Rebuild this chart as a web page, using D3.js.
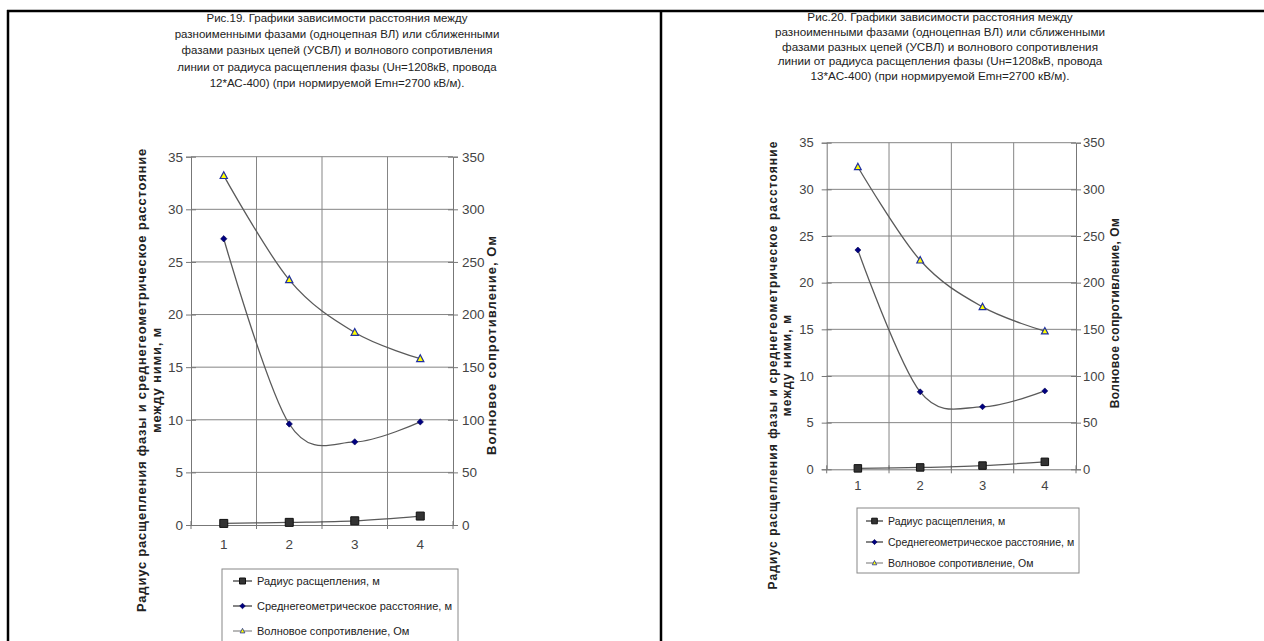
<!DOCTYPE html>
<html lang="ru">
<head>
    <meta charset="UTF-8">
    <title>Рис.19 и Рис.20</title>
    <script src="https://d3js.org/d3.v7.min.js"></script>
    <style>
        body { margin: 0; background: #fff; }
        svg { display: block; font-family: "Liberation Sans", Arial, sans-serif; }
        .tick text { fill: #444; }
        .series { fill: none; stroke: #5a5a5a; stroke-width: 1.3px; }
    </style>
</head>
<body>
    <svg width="1264" height="641"></svg>

    <script>
        // Values
        const categories = [1, 2, 3, 4];

        const radius19 = [0.15, 0.25, 0.4, 0.85];
        const distance19 = [27.2, 9.6, 7.9, 9.8];
        const impedance19 = [332, 233, 183, 158];

        const radius20 = [0.1, 0.2, 0.4, 0.8];
        const distance20 = [23.5, 8.3, 6.7, 8.4];
        const impedance20 = [324, 224, 174, 148];

        const leftTicks = [0, 5, 10, 15, 20, 25, 30, 35];
        const rightTicks = [0, 50, 100, 150, 200, 250, 300, 350];

        const seriesNames = ["Радиус расщепления, м", "Среднегеометрическое расстояние, м", "Волновое сопротивление, Ом"];
        const leftTitle = ["Радиус расщепления фазы и среднегеометрическое расстояние", "между ними, м"];
        const rightTitle = "Волновое сопротивление, Ом";

        const title19 = [
            "Рис.19. Графики зависимости расстояния между",
            "разноименными фазами (одноцепная ВЛ) или сближенными",
            "фазами  разных цепей (УСВЛ) и волнового сопротивления",
            "линии от радиуса расщепления фазы (Uн=1208кВ, провода",
            "12*АС-400) (при нормируемой Emн=2700 кВ/м)."
        ];
        const title20 = [
            "Рис.20. Графики зависимости расстояния между",
            "разноименными фазами (одноцепная ВЛ) или сближенными",
            "фазами разных цепей (УСВЛ) и волнового сопротивления",
            "линии от радиуса расщепления фазы (Uн=1208кВ, провода",
            "13*АС-400) (при нормируемой Emн=2700 кВ/м)."
        ];

        const svg = d3.select("svg");

        // table cell borders
        const border = svg.append("g").attr("stroke", "#000").attr("stroke-width", 2.5);
        border.append("line").attr("x1", 7).attr("x2", 1264).attr("y1", 11).attr("y2", 11);
        border.append("line").attr("x1", 8).attr("x2", 8).attr("y1", 10).attr("y2", 641);
        border.append("line").attr("x1", 661).attr("x2", 661).attr("y1", 10).attr("y2", 641);

        // marker shapes
        const squarePath = s => d3.symbol().type(d3.symbolSquare).size(s * s)();
        const diamondPath = s => `M0,${-s / 2}L${s / 2},0L0,${s / 2}L${-s / 2},0Z`;
        const trianglePath = s => `M0,${-s * 0.55}L${s / 2},${s * 0.4}L${-s / 2},${s * 0.4}Z`;

        function drawChart(c) {
            const g = svg.append("g");

            // title
            g.append("text")
                .attr("text-anchor", "middle")
                .attr("font-size", c.titleSize)
                .attr("fill", "#222")
                .selectAll("tspan")
                .data(c.title)
                .join("tspan")
                .attr("x", c.titleX)
                .attr("y", (d, i) => c.titleY + i * c.titleStep)
                .text(d => d);

            const x = d3.scaleBand().domain(categories).range([c.left, c.right]);
            const y = d3.scaleLinear().domain([0, 35]).range([c.bottom, c.top]);
            const y2 = d3.scaleLinear().domain([0, 350]).range([c.bottom, c.top]);

            // gridlines
            const grid = g.append("g").attr("stroke", "#858585").attr("stroke-width", 1);
            grid.selectAll(".h").data(leftTicks.slice(1)).join("line")
                .attr("x1", c.left).attr("x2", c.right)
                .attr("y1", d => y(d)).attr("y2", d => y(d));
            grid.selectAll(".v").data(categories.slice(1)).join("line")
                .attr("x1", d => x(d)).attr("x2", d => x(d))
                .attr("y1", c.top).attr("y2", c.bottom);

            // axes
            const axL = g.append("g")
                .attr("transform", `translate(${c.left},0)`)
                .call(d3.axisLeft(y).tickValues(leftTicks).tickSize(5).tickPadding(c.tickPadL));
            const axR = g.append("g")
                .attr("transform", `translate(${c.right},0)`)
                .call(d3.axisRight(y2).tickValues(rightTicks).tickSize(5).tickPadding(c.tickPadR));
            const axB = g.append("g")
                .attr("transform", `translate(0,${c.bottom})`)
                .call(d3.axisBottom(x).tickSize(0).tickPadding(c.catPad));
            [axL, axR, axB].forEach(ax => {
                ax.attr("font-size", c.tickSize).attr("font-family", null);
                ax.select(".domain").attr("stroke", "#777");
                ax.selectAll(".tick line").attr("stroke", "#777");
            });
            // cross ticks
            axL.selectAll(".tick line").attr("x1", 5);
            axR.selectAll(".tick line").attr("x1", -5);
            g.append("g").attr("stroke", "#777").selectAll("line")
                .data(categories.concat([null]))
                .join("line")
                .attr("x1", d => d === null ? c.right : x(d))
                .attr("x2", d => d === null ? c.right : x(d))
                .attr("y1", c.bottom - 4).attr("y2", c.bottom + 4);

            // axis titles
            g.append("text")
                .attr("transform", `translate(${c.lt1x},${c.ltY}) rotate(-90)`)
                .attr("text-anchor", "middle")
                .attr("font-size", c.axTitleSize)
                .attr("font-weight", "bold")
                .attr("letter-spacing", c.ltSpacing)
                .attr("fill", "#222")
                .selectAll("tspan")
                .data(leftTitle)
                .join("tspan")
                .attr("x", 0)
                .attr("y", (d, i) => i * c.ltStep)
                .text(d => d);
            g.append("text")
                .attr("transform", `translate(${c.rtx},${c.rtY}) rotate(-90)`)
                .attr("text-anchor", "middle")
                .attr("font-size", c.axTitleSize)
                .attr("font-weight", "bold")
                .attr("letter-spacing", c.rtSpacing)
                .attr("fill", "#222")
                .text(rightTitle);

            const cx = d => x(d) + x.bandwidth() / 2;
            const line = (scale) => d3.line()
                .x((d, i) => cx(categories[i]))
                .y(d => scale(d))
                .curve(d3.curveCardinal.tension(0));

            // series
            g.append("path").attr("class", "series").attr("d", line(y)(c.radius));
            g.append("path").attr("class", "series").attr("d", line(y)(c.distance));
            g.append("path").attr("class", "series").attr("d", line(y2)(c.impedance));

            const ms = c.marker;
            g.append("g").selectAll("path").data(c.radius).join("path")
                .attr("transform", (d, i) => `translate(${cx(categories[i])},${y(d)})`)
                .attr("d", squarePath(ms)).attr("fill", "#333").attr("stroke", "#111");
            g.append("g").selectAll("path").data(c.distance).join("path")
                .attr("transform", (d, i) => `translate(${cx(categories[i])},${y(d)})`)
                .attr("d", diamondPath(ms * 0.8)).attr("fill", "#000080").attr("stroke", "#000050").attr("stroke-width", 0.6);
            g.append("g").selectAll("path").data(c.impedance).join("path")
                .attr("transform", (d, i) => `translate(${cx(categories[i])},${y2(d)})`)
                .attr("d", trianglePath(ms * 0.9)).attr("fill", "#ffff00").attr("stroke", "#2030a0").attr("stroke-width", 1.2);

            // legend
            const lg = g.append("g").attr("transform", `translate(${c.legX},${c.legY})`);
            lg.append("rect")
                .attr("width", c.legW).attr("height", c.legH)
                .attr("fill", "#fff").attr("stroke", "#888").attr("stroke-width", 1);
            const symbols = [
                { d: squarePath(ms * 0.75), fill: "#333", stroke: "#111", sw: 1 },
                { d: diamondPath(ms * 0.7), fill: "#000080", stroke: "#000050", sw: 0.6 },
                { d: trianglePath(ms * 0.6), fill: "#ffff00", stroke: "#2030a0", sw: 0.8 }
            ];
            const item = lg.selectAll(".item").data(seriesNames).join("g")
                .attr("transform", (d, i) => `translate(0,${c.legFirst + i * c.legStep})`);
            item.append("line")
                .attr("x1", c.sampleX).attr("x2", c.sampleX + c.sampleW)
                .attr("stroke", (d, i) => i === 2 ? "#888" : "#333").attr("stroke-width", 1.2);
            item.append("path")
                .attr("transform", `translate(${c.sampleX + c.sampleW / 2},0)`)
                .attr("d", (d, i) => symbols[i].d)
                .attr("fill", (d, i) => symbols[i].fill)
                .attr("stroke", (d, i) => symbols[i].stroke)
                .attr("stroke-width", (d, i) => symbols[i].sw);
            item.append("text")
                .attr("x", c.sampleX + c.sampleW + 5)
                .attr("dy", "0.35em")
                .attr("font-size", c.legSize)
                .attr("fill", "#222")
                .text(d => d);
        }

        drawChart({
            title: title19, titleX: 337, titleY: 22, titleStep: 16.2, titleSize: 11.5,
            left: 191, right: 453, top: 156.7, bottom: 525,
            tickSize: 13.5, tickPadL: 3, tickPadR: 4, catPad: 14,
            lt1x: 146, ltY: 380, ltStep: 15, ltSpacing: 0.8,
            rtx: 496, rtY: 345, rtSpacing: 1.0, axTitleSize: 13,
            radius: radius19, distance: distance19, impedance: impedance19,
            marker: 8,
            legX: 222, legY: 569, legW: 236, legH: 80,
            legFirst: 12, legStep: 25, sampleX: 11, sampleW: 19, legSize: 11
        });

        drawChart({
            title: title20, titleX: 940, titleY: 21, titleStep: 14.8, titleSize: 11.7,
            left: 826.7, right: 1076, top: 142.7, bottom: 469.3,
            tickSize: 13, tickPadL: 8, tickPadR: 2, catPad: 11,
            lt1x: 777, ltY: 365, ltStep: 14, ltSpacing: 1.1,
            rtx: 1119, rtY: 313, rtSpacing: 0.45, axTitleSize: 12,
            radius: radius20, distance: distance20, impedance: impedance20,
            marker: 7.5,
            legX: 857, legY: 508, legW: 222, legH: 65,
            legFirst: 13, legStep: 21, sampleX: 9, sampleW: 17, legSize: 10.5
        });
    </script>
</body>
</html>
